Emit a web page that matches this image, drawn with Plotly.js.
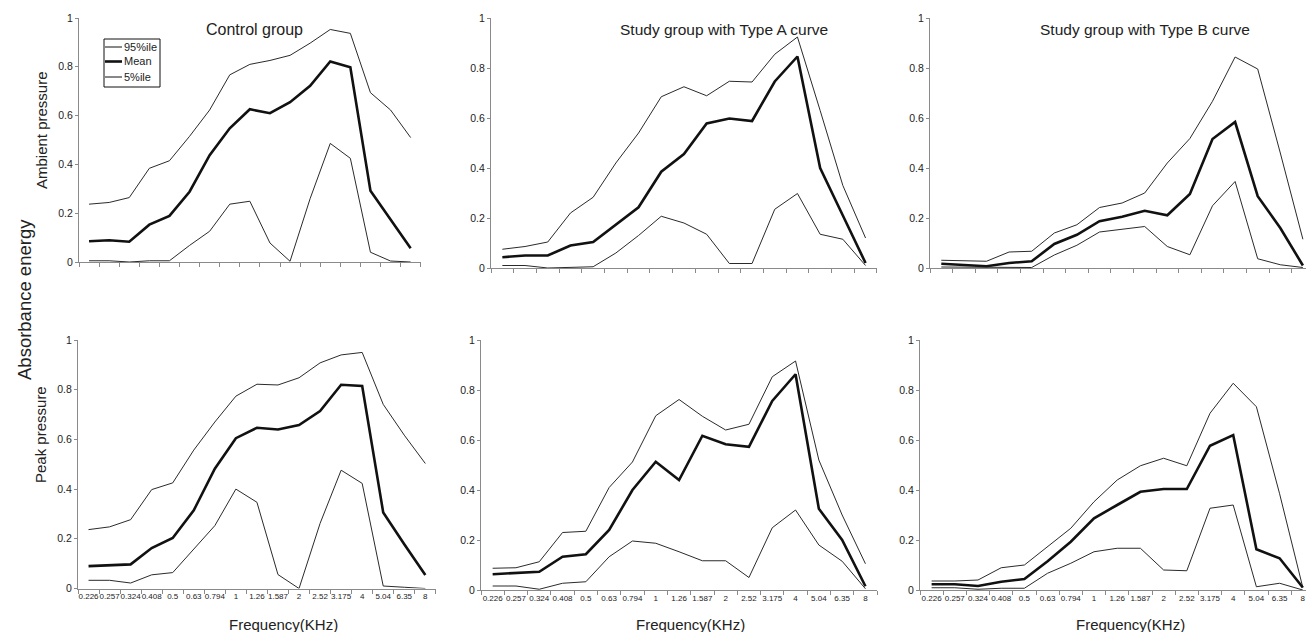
<!DOCTYPE html>
<html>
<head>
<meta charset="utf-8">
<script src="https://cdn.plot.ly/plotly-3.0.1.min.js"></script>
<style>html,body{margin:0;padding:0;background:#fff;}#chart{width:1306px;height:632px;}</style>
</head>
<body>
<div id="chart"></div>
<script>
// Frequency categories (kHz)
const freqLabels = ['0.226','0.257','0.324','0.408','0.5','0.63','0.794','1','1.26','1.587','2','2.52','3.175','4','5.04','6.35','8'];

// Control group - ambient pressure
const ctrlAmbP95  = [0.237,0.244,0.264,0.384,0.415,0.515,0.623,0.767,0.81,0.826,0.847,0.897,0.953,0.937,0.694,0.623,0.51];
const ctrlAmbMean = [0.085,0.089,0.083,0.153,0.189,0.288,0.438,0.548,0.626,0.61,0.655,0.722,0.822,0.798,0.292,0.172,0.056];
const ctrlAmbP5   = [0.005,0.005,0.0,0.005,0.005,0.068,0.126,0.237,0.249,0.078,0.003,0.26,0.486,0.425,0.04,0.004,0.0];

// Type A - ambient pressure
const typeAAmbP95  = [0.075,0.086,0.104,0.22,0.283,0.42,0.54,0.685,0.725,0.689,0.747,0.744,0.855,0.924,0.63,0.33,0.12];
const typeAAmbMean = [0.043,0.05,0.05,0.09,0.104,0.175,0.243,0.385,0.456,0.578,0.598,0.588,0.746,0.846,0.4,0.21,0.02];
const typeAAmbP5   = [0.01,0.01,0.0,0.002,0.005,0.06,0.13,0.207,0.18,0.135,0.018,0.018,0.235,0.298,0.135,0.115,0.01];

// Type B - ambient pressure
const typeBAmbP95  = [0.031,0.03,0.027,0.064,0.067,0.14,0.173,0.242,0.26,0.3,0.42,0.518,0.667,0.844,0.796,0.46,0.115];
const typeBAmbMean = [0.017,0.012,0.007,0.02,0.027,0.096,0.133,0.187,0.205,0.229,0.211,0.296,0.516,0.584,0.287,0.16,0.01];
const typeBAmbP5   = [0.004,0.003,0.002,0.001,0.002,0.052,0.091,0.144,0.156,0.166,0.086,0.053,0.249,0.346,0.037,0.013,0.002];

// Control group - peak pressure
const ctrlPkP95  = [0.237,0.248,0.277,0.398,0.425,0.557,0.67,0.774,0.822,0.819,0.848,0.908,0.94,0.95,0.741,0.617,0.503];
const ctrlPkMean = [0.09,0.093,0.097,0.163,0.203,0.315,0.482,0.605,0.647,0.64,0.658,0.714,0.82,0.815,0.306,0.178,0.054];
const ctrlPkP5   = [0.033,0.033,0.022,0.055,0.064,0.158,0.253,0.4,0.347,0.056,0.0,0.262,0.476,0.423,0.01,0.005,0.0];

// Type A - peak pressure
const typeAPkP95  = [0.087,0.089,0.113,0.23,0.235,0.41,0.512,0.697,0.762,0.695,0.64,0.663,0.853,0.916,0.52,0.3,0.105];
const typeAPkMean = [0.063,0.067,0.073,0.133,0.143,0.24,0.4,0.513,0.44,0.617,0.583,0.573,0.756,0.863,0.325,0.2,0.015];
const typeAPkP5   = [0.016,0.016,0.003,0.027,0.033,0.133,0.196,0.187,0.153,0.117,0.117,0.05,0.249,0.32,0.18,0.115,0.005];

// Type B - peak pressure
const typeBPkP95  = [0.036,0.036,0.04,0.089,0.1,0.173,0.247,0.353,0.44,0.497,0.527,0.497,0.707,0.827,0.733,0.385,0.01];
const typeBPkMean = [0.023,0.023,0.016,0.033,0.044,0.115,0.193,0.287,0.34,0.393,0.404,0.404,0.577,0.62,0.163,0.127,0.01];
const typeBPkP5   = [0.009,0.009,0.003,0.007,0.007,0.067,0.107,0.153,0.167,0.167,0.08,0.077,0.327,0.34,0.013,0.027,0.0];

const panelTitles = ['Control group','Study group with Type A curve','Study group with Type B curve'];
const legendNames = ['95%ile','Mean','5%ile'];

const W = 1306, H = 632;
const fx = x => x / W;
const fy = y => 1 - y / H;

const series = [
  [ctrlAmbP95, ctrlAmbMean, ctrlAmbP5],
  [typeAAmbP95, typeAAmbMean, typeAAmbP5],
  [typeBAmbP95, typeBAmbMean, typeBAmbP5],
  [ctrlPkP95, ctrlPkMean, ctrlPkP5],
  [typeAPkP95, typeAPkMean, typeAPkP5],
  [typeBPkP95, typeBPkMean, typeBPkP5]
];

// panel geometry in pixels: left axis x, category width, y of value 0, y of value 1
const panels = [
  {x0: 79,  cw: 20.1, yb: 262, yt: 18},
  {x0: 491, cw: 22.7, yb: 268, yt: 18},
  {x0: 930, cw: 22.6, yb: 268, yt: 18},
  {x0: 78,  cw: 21.05, yb: 588.5, yt: 340},
  {x0: 481, cw: 23.3, yb: 590, yt: 340},
  {x0: 920, cw: 23.2, yb: 590, yt: 340}
];

const FONT = 'Liberation Sans, Arial, Helvetica, sans-serif';
const traces = [];
const layout = {
  width: W, height: H,
  margin: {l: 0, r: 0, t: 0, b: 0, pad: 0},
  paper_bgcolor: '#fff', plot_bgcolor: 'rgba(0,0,0,0)',
  showlegend: false,
  font: {family: FONT, color: '#222'},
  annotations: [], shapes: []
};

panels.forEach((p, i) => {
  const n = i + 1;
  const xa = n === 1 ? 'x' : 'x' + n;
  const ya = n === 1 ? 'y' : 'y' + n;
  const [p95, mean, p5] = series[i];
  [[p95, 1, '#2a2a2a'], [mean, 2.6, '#111'], [p5, 1, '#2a2a2a']].forEach(([vals, w, c], k) => {
    traces.push({
      type: 'scatter', mode: 'lines', x: freqLabels, y: vals,
      xaxis: xa, yaxis: ya, name: legendNames[k],
      line: {color: c, width: w}, hoverinfo: 'skip', cliponaxis: false
    });
  });
  let x1 = p.x0 + freqLabels.length * p.cw;
  let rmax = freqLabels.length - 0.5;
  if (x1 > W) { rmax = -0.5 + (W - p.x0) / p.cw; x1 = W; }
  const bottom = i >= 3;
  layout['xaxis' + (n === 1 ? '' : n)] = {
    type: 'category', anchor: ya, domain: [fx(p.x0), fx(x1)],
    range: [-0.5, rmax], tickson: 'boundaries',
    showline: true, linecolor: '#8a8a8a', linewidth: 1,
    ticks: 'outside', ticklen: 4, tickcolor: '#8a8a8a', tickwidth: 1,
    showgrid: false, zeroline: false, tickangle: 0,
    showticklabels: bottom, tickfont: {size: 8, color: '#222', family: FONT}
  };
  layout['yaxis' + (n === 1 ? '' : n)] = {
    anchor: xa, domain: [fy(p.yb), fy(p.yt)], range: [0, 1],
    tickvals: [0, 0.2, 0.4, 0.6, 0.8, 1], ticktext: ['0','0.2','0.4','0.6','0.8','1'],
    showline: true, linecolor: '#8a8a8a', linewidth: 1,
    ticks: 'outside', ticklen: 3, tickcolor: '#8a8a8a',
    showgrid: false, zeroline: false,
    tickfont: {size: 10.5, color: '#222', family: FONT}
  };
});

// panel titles
const titlePos = [[254, 29], [724, 29], [1145, 29]];
panelTitles.forEach((t, i) => {
  layout.annotations.push({text: t, xref: 'paper', yref: 'paper', x: fx(titlePos[i][0]), y: fy(titlePos[i][1]),
    xanchor: 'center', yanchor: 'middle', showarrow: false, font: {size: i === 0 ? 16 : 15.5, color: '#222', family: FONT}});
});

// x axis titles
[283, 690, 1130].forEach(cx => {
  layout.annotations.push({text: 'Frequency(KHz)', xref: 'paper', yref: 'paper', x: fx(cx), y: fy(624),
    xanchor: 'center', yanchor: 'middle', showarrow: false, font: {size: 15, color: '#222', family: FONT}});
});

// left side labels
layout.annotations.push({text: 'Ambient pressure', xref: 'paper', yref: 'paper', x: fx(41), y: fy(130), textangle: -90,
  xanchor: 'center', yanchor: 'middle', showarrow: false, font: {size: 15, color: '#222', family: FONT}});
layout.annotations.push({text: 'Peak pressure', xref: 'paper', yref: 'paper', x: fx(40), y: fy(435), textangle: -90,
  xanchor: 'center', yanchor: 'middle', showarrow: false, font: {size: 15, color: '#222', family: FONT}});
layout.annotations.push({text: 'Absorbance energy', xref: 'paper', yref: 'paper', x: fx(24), y: fy(300), textangle: -90,
  xanchor: 'center', yanchor: 'middle', showarrow: false, font: {size: 18.5, color: '#222', family: FONT}});

// legend box (top-left panel)
const lg = {x0: 104, y0: 39, x1: 160, y1: 87};
layout.shapes.push({type: 'rect', xref: 'paper', yref: 'paper', x0: fx(lg.x0), x1: fx(lg.x1), y0: fy(lg.y1), y1: fy(lg.y0),
  line: {color: '#111', width: 1}, fillcolor: 'rgba(255,255,255,0)'});
const legY = [47, 61.5, 77];
const legW = [1, 2.6, 1];
legendNames.forEach((nm, k) => {
  layout.shapes.push({type: 'line', xref: 'paper', yref: 'paper', x0: fx(105), x1: fx(122), y0: fy(legY[k]), y1: fy(legY[k]),
    line: {color: '#111', width: legW[k]}});
  layout.annotations.push({text: nm, xref: 'paper', yref: 'paper', x: fx(121.5), y: fy(legY[k]),
    xanchor: 'left', yanchor: 'middle', showarrow: false, font: {size: 11, color: '#222', family: FONT}});
});

Plotly.newPlot('chart', traces, layout, {staticPlot: true, displayModeBar: false});
</script>
</body>
</html>
